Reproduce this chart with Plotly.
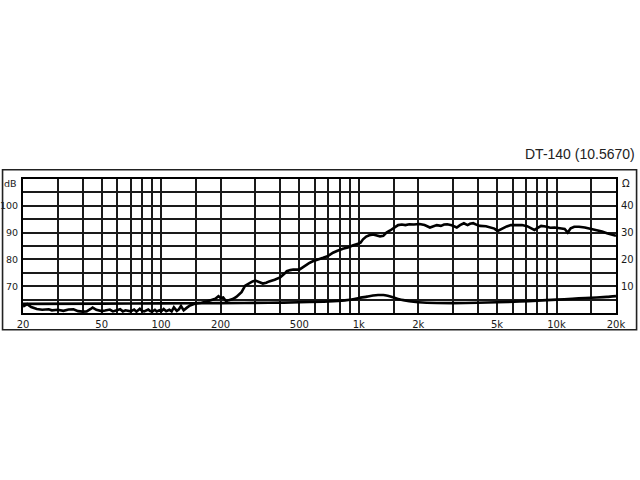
import plotly.graph_objects as go

# SPL response (Hz, dB)
spl_freq = [20, 21, 22, 23.5, 25, 27, 28, 30, 32, 34, 36, 38, 40, 42, 44, 45, 47, 50, 52,
            55, 57, 59, 62, 64, 66, 70, 73, 75, 78, 80, 82, 86, 88, 90, 93, 95, 98, 100,
            103, 106, 110, 113, 116, 120, 123, 126, 130, 135, 140, 150, 160, 170, 180, 188,
            195, 200, 206, 213, 220, 230, 240, 255, 266, 280, 290, 300, 315, 327, 340, 352,
            375, 400, 420, 432, 450, 466, 500, 520, 540, 560, 585, 620, 660, 700, 740, 780,
            830, 880, 930, 990, 1020, 1050, 1090, 1130, 1180, 1220, 1280, 1330, 1380, 1440,
            1490, 1540, 1580, 1650, 1720, 1800, 1900, 2030, 2150, 2290, 2380, 2480, 2600,
            2700, 2800, 2950, 3130, 3250, 3400, 3550, 3650, 3790, 3950, 4100, 4400, 4640,
            4850, 5040, 5340, 5600, 5870, 6300, 6690, 7100, 7500, 7730, 8000, 8360, 8800,
            9300, 9790, 10200, 10600, 11000, 11400, 11800, 12300, 13000, 13900, 14600,
            15300, 16200, 17000, 18000, 19000, 20000]
spl_db = [62.4, 63.3, 62.2, 61.5, 61.2, 61.4, 61.0, 61.2, 60.8, 61.3, 61.4, 60.7, 60.5, 60.6,
          61.5, 62.0, 61.2, 60.7, 60.9, 61.3, 60.6, 60.9, 61.4, 60.6, 61.0, 60.6, 61.3, 60.5,
          61.6, 60.8, 60.6, 61.3, 60.7, 60.5, 61.2, 60.6, 61.0, 60.6, 61.5, 60.7, 61.2, 60.6,
          62.1, 60.8, 61.4, 62.6, 61.0, 62.0, 62.8, 63.6, 63.8, 64.3, 65.0, 65.3, 66.3, 65.6,
          65.8, 64.4, 64.8, 65.2, 66.0, 67.8, 70.2, 71.3, 71.8, 72.1, 71.6, 71.0, 71.3, 71.8,
          72.4, 73.3, 74.6, 75.6, 76.0, 76.2, 76.2, 77.0, 78.1, 78.6, 79.3, 79.8, 80.6, 81.3,
          82.5, 83.2, 84.0, 84.4, 85.2, 85.8, 86.2, 87.5, 88.5, 89.0, 89.3, 89.0, 88.6, 88.8,
          90.0, 90.8, 91.5, 92.0, 92.8, 93.0, 92.8, 93.1, 93.0, 93.2, 92.8, 91.9, 92.4, 92.8,
          92.5, 93.0, 93.1, 92.7, 91.9, 92.8, 93.5, 92.8, 93.3, 93.5, 92.9, 92.5, 92.4, 91.9,
          91.5, 90.6, 91.6, 92.3, 92.8, 92.9, 92.8, 92.4, 91.6, 91.0, 91.7, 92.5, 92.3, 91.8,
          91.9, 91.7, 91.5, 91.4, 90.0, 91.6, 92.2, 92.2, 91.9, 91.6, 91.2, 90.9, 90.4, 89.8,
          89.3, 88.8]

# Impedance (Hz, Ohm)
imp_freq = [20, 50, 100, 200, 350, 500, 700, 850, 950, 1000, 1100, 1180, 1250, 1330, 1400,
            1500, 1600, 1800, 2000, 2200, 3000, 4000, 5000, 6500, 8000, 10000, 12000, 14000,
            16000, 18000, 20000]
imp_ohm = [3.4, 3.5, 3.6, 3.7, 3.8, 4.0, 4.3, 4.7, 5.2, 5.6, 6.1, 6.5, 6.7, 6.7, 6.4, 5.8,
           5.1, 4.4, 4.0, 3.8, 3.7, 3.8, 4.0, 4.3, 4.6, 5.0, 5.3, 5.6, 5.8, 6.0, 6.3]

grid_freq = [20, 30, 40, 50, 60, 70, 80, 90, 100, 150, 200, 300, 400, 500, 600, 700, 800,
             900, 1000, 1500, 2000, 3000, 4000, 5000, 6000, 7000, 8000, 9000, 10000, 15000,
             20000]
freq_labels = {20: "20", 50: "50", 100: "100", 200: "200", 500: "500", 1000: "1k",
               2000: "2k", 5000: "5k", 10000: "10k", 20000: "20k"}
db_grid = [60, 65, 70, 75, 80, 85, 90, 95, 100, 105, 110]
db_labels = {70: "70", 80: "80", 90: "90", 100: "100"}
ohm_ticks = [10, 20, 30, 40]

title_text = "DT-140 (10.5670)"

fig = go.Figure()
fig.add_trace(go.Scatter(x=imp_freq, y=imp_ohm, mode="lines", yaxis="y2",
                         line=dict(color="black", width=2.6, shape="spline", smoothing=0.6),
                         showlegend=False, hoverinfo="skip"))
fig.add_trace(go.Scatter(x=spl_freq, y=spl_db, mode="lines",
                         line=dict(color="black", width=2.6),
                         showlegend=False, hoverinfo="skip"))

font = dict(family="DejaVu Sans, Verdana, sans-serif", size=10, color="#1a1a1a")
yfont = dict(family="DejaVu Sans, Verdana, sans-serif", size=9.5, color="#1a1a1a")

fig.update_layout(
    width=640, height=480,
    margin=dict(l=23, r=24, t=179, b=167, autoexpand=False),
    paper_bgcolor="white", plot_bgcolor="white",
    xaxis=dict(type="log", range=[1.30103, 4.30103], tickvals=grid_freq,
               ticktext=[freq_labels.get(f, "") for f in grid_freq],
               showgrid=True, gridcolor="#1a1a1a", gridwidth=1.6, automargin=False,
               showline=True, linecolor="black", linewidth=2, mirror=True,
               ticks="", tickfont=font, zeroline=False, ticklabelstandoff=1),
    yaxis=dict(range=[60, 110], tickvals=db_grid,
               ticktext=[db_labels.get(v, "") for v in db_grid],
               showgrid=True, gridcolor="#1a1a1a", gridwidth=1.6, automargin=False,
               showline=True, linecolor="black", linewidth=2, mirror=True,
               ticks="", tickfont=yfont, zeroline=False, ticklabelstandoff=1),
    yaxis2=dict(range=[0, 50], overlaying="y", side="right", tickvals=ohm_ticks,
                showgrid=False, zeroline=False, ticks="", tickfont=font,
                automargin=False, ticklabelstandoff=4),
    annotations=[
        dict(text="dB", xref="paper", yref="paper", x=-0.006, y=0.97, xanchor="right",
             yanchor="middle", showarrow=False, font=yfont),
        dict(text="Ω", xref="paper", yref="paper", x=1.007, y=0.97, xanchor="left",
             yanchor="middle", showarrow=False, font=font),
        dict(text=title_text, xref="paper", yref="paper", x=1.035, y=1.185,
             xanchor="right", yanchor="middle", showarrow=False,
             font=dict(family="Liberation Sans, Arial, sans-serif", size=14, color="#222")),
    ],
    shapes=[dict(type="rect", xref="paper", yref="paper", x0=-0.0345, x1=1.0347,
                 y0=-0.1246, y1=1.0694, line=dict(color="#222", width=1.6),
                 fillcolor="rgba(0,0,0,0)", layer="below")],
)

fig.write_html("out.html", config={"displayModeBar": False},
               post_script="document.body.style.margin='0';")
